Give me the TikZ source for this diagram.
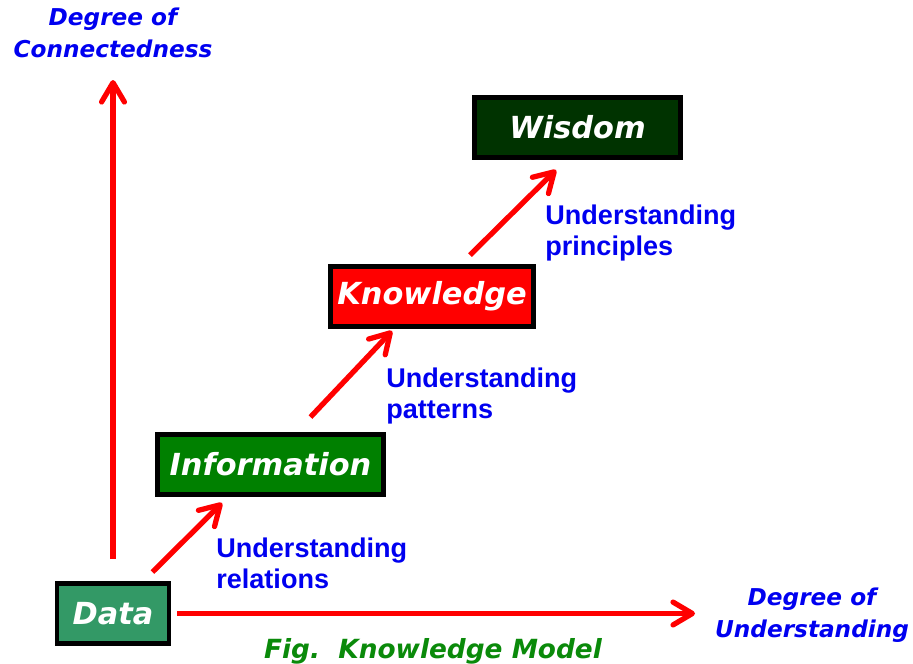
\documentclass[tikz,border=0pt]{standalone}
\usepackage{fontspec}
\newfontfamily\verd{DejaVu Sans}
\newfontfamily\arial{Liberation Sans}
\usetikzlibrary{arrows.meta}
\definecolor{datagreen}{HTML}{339966}
\definecolor{infogreen}{HTML}{008000}
\definecolor{wisgreen}{HTML}{003300}
\definecolor{capgreen}{HTML}{0A8A0A}
\definecolor{lblblue}{HTML}{0000F0}
\begin{document}
\begin{tikzpicture}[x=0.02cm, y=-0.02cm,
    level/.style={draw=black, line width=2.8pt, inner sep=0pt, minimum height=1.2cm, text=white,
        font=\verd\bfseries\itshape\fontsize{17.3}{20}\selectfont},
    redarrow/.style={draw=red, line width=3pt, -{Straight Barb[round, length=11pt, width=13pt]}},
    lbl/.style={text=lblblue, align=left, anchor=north west, inner sep=0pt,
        font=\arial\bfseries\fontsize{15.4}{17.4}\selectfont},
    axislbl/.style={text=lblblue, align=center, anchor=north, inner sep=0pt,
        font=\verd\bfseries\itshape\fontsize{13.2}{18}\selectfont}]
    \useasboundingbox (0,0) rectangle (913,663);
    \node[level, fill=datagreen, minimum width=2.24cm] (data) at (113,613.5) {Data};
    \node[level, fill=infogreen, minimum width=4.52cm] (info) at (270.5,464.5) {Information};
    \node[level, fill=red, minimum width=4.06cm] (know) at (432,296.5) {Knowledge};
    \node[level, fill=wisgreen, minimum width=4.12cm] (wis) at (577.5,127.5) {Wisdom};
    \coordinate (conn) at (113,80);
    \coordinate (und) at (695,613.5);
    \draw[redarrow] ([yshift=0.44cm]data.north) -- (conn);
    \draw[redarrow] ([xshift=0.12cm]data.east) -- (und);
    \draw[redarrow] ([xshift=-0.38cm,yshift=0.18cm]data.north east) -- ([xshift=1.34cm,yshift=-0.12cm]info.south west);
    \draw[redarrow] ([xshift=0.8cm,yshift=0.3cm]info.north) -- ([xshift=1.28cm,yshift=-0.04cm]know.south west);
    \draw[redarrow] ([xshift=0.76cm,yshift=0.18cm]know.north) -- ([xshift=1.68cm,yshift=-0.2cm]wis.south west);
    \node[lbl] (rel) at (216,538) {Understanding\\relations};
    \node[lbl] (pat) at (386,368) {Understanding\\patterns};
    \node[lbl] (pri) at (545,205) {Understanding\\principles};
    \node[axislbl] (connlbl) at (113,8) {Degree of\\Connectedness};
    \node[axislbl] (undlbl) at (812,588) {Degree of\\Understanding};
    \node[anchor=base, inner sep=0pt, text=capgreen, font=\verd\bfseries\itshape\fontsize{15}{18}\selectfont] (cap) at (433,658) {Fig.\ \ Knowledge Model};
\end{tikzpicture}
\end{document}
